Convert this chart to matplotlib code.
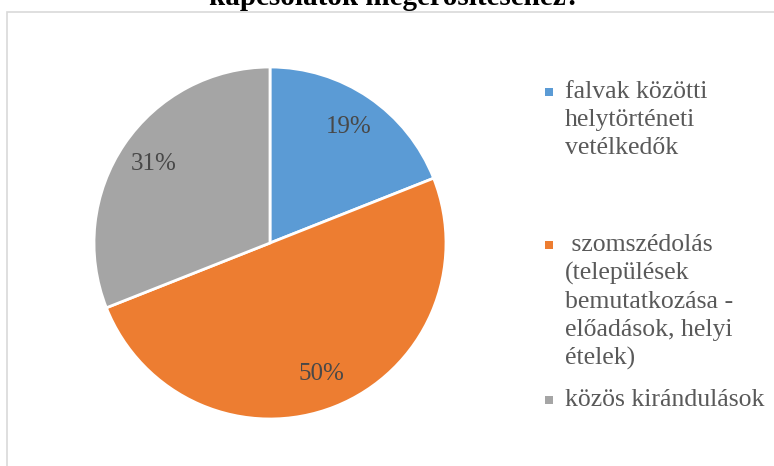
import matplotlib.pyplot as plt
from matplotlib.patches import Rectangle

# Data
labels = [
    "falvak közötti\nhelytörténeti\nvetélkedők",
    " szomszédolás\n(települések\nbemutatkozása -\nelőadások, helyi\nételek)",
    "közös kirándulások",
]
shares = [19, 50, 31]
colors = ["#5B9BD5", "#ED7D31", "#A5A5A5"]
title = "kapcsolatok megerősítéséhez?"

plt.rcParams['font.family'] = ['Liberation Serif', 'DejaVu Serif']

W, H = 774, 466
fig = plt.figure(figsize=(W / 100, H / 100), dpi=100)

# chart area border (runs off the right and bottom edges)
fig.add_artist(Rectangle((7 / W, -0.1), 1.2, (H - 12) / H + 0.1,
                         transform=fig.transFigure, fill=False,
                         edgecolor="#D9D9D9", linewidth=1.2))

# title, mostly cut off at the top
fig.text(395 / W, (H - 5) / H, title, ha='center', va='baseline',
         fontsize=21, fontweight='bold', color='black')

# pie
cx, cy, r = 270, 243, 176
ax = fig.add_axes([(cx - r) / W, (H - cy - r) / H, 2 * r / W, 2 * r / H])
wedges, texts, autotexts = ax.pie(
    shares, colors=colors, startangle=90, counterclock=False,
    autopct='%1.0f%%', pctdistance=0.8,
    wedgeprops=dict(edgecolor='white', linewidth=2),
    textprops=dict(fontsize=18, color='#484848'))
ax.set_xlim(-1, 1)
ax.set_ylim(-1, 1)
ax.set_aspect('equal')
ax.axis('off')

# legend drawn by hand: marker aligned to first line of each label
legend_y = [81, 234, 389]
for lab, col, y in zip(labels, colors, legend_y):
    fig.add_artist(Rectangle(((549 - 4) / W, (H - y - 15) / H), 8 / W, 8 / H,
                             transform=fig.transFigure, facecolor=col,
                             edgecolor='none'))
    fig.text(565 / W, (H - y) / H, lab, ha='left', va='top',
             fontsize=18.5, color='#595959', linespacing=1.34,
             transform=fig.transFigure)

plt.savefig('out.png', dpi=100)
